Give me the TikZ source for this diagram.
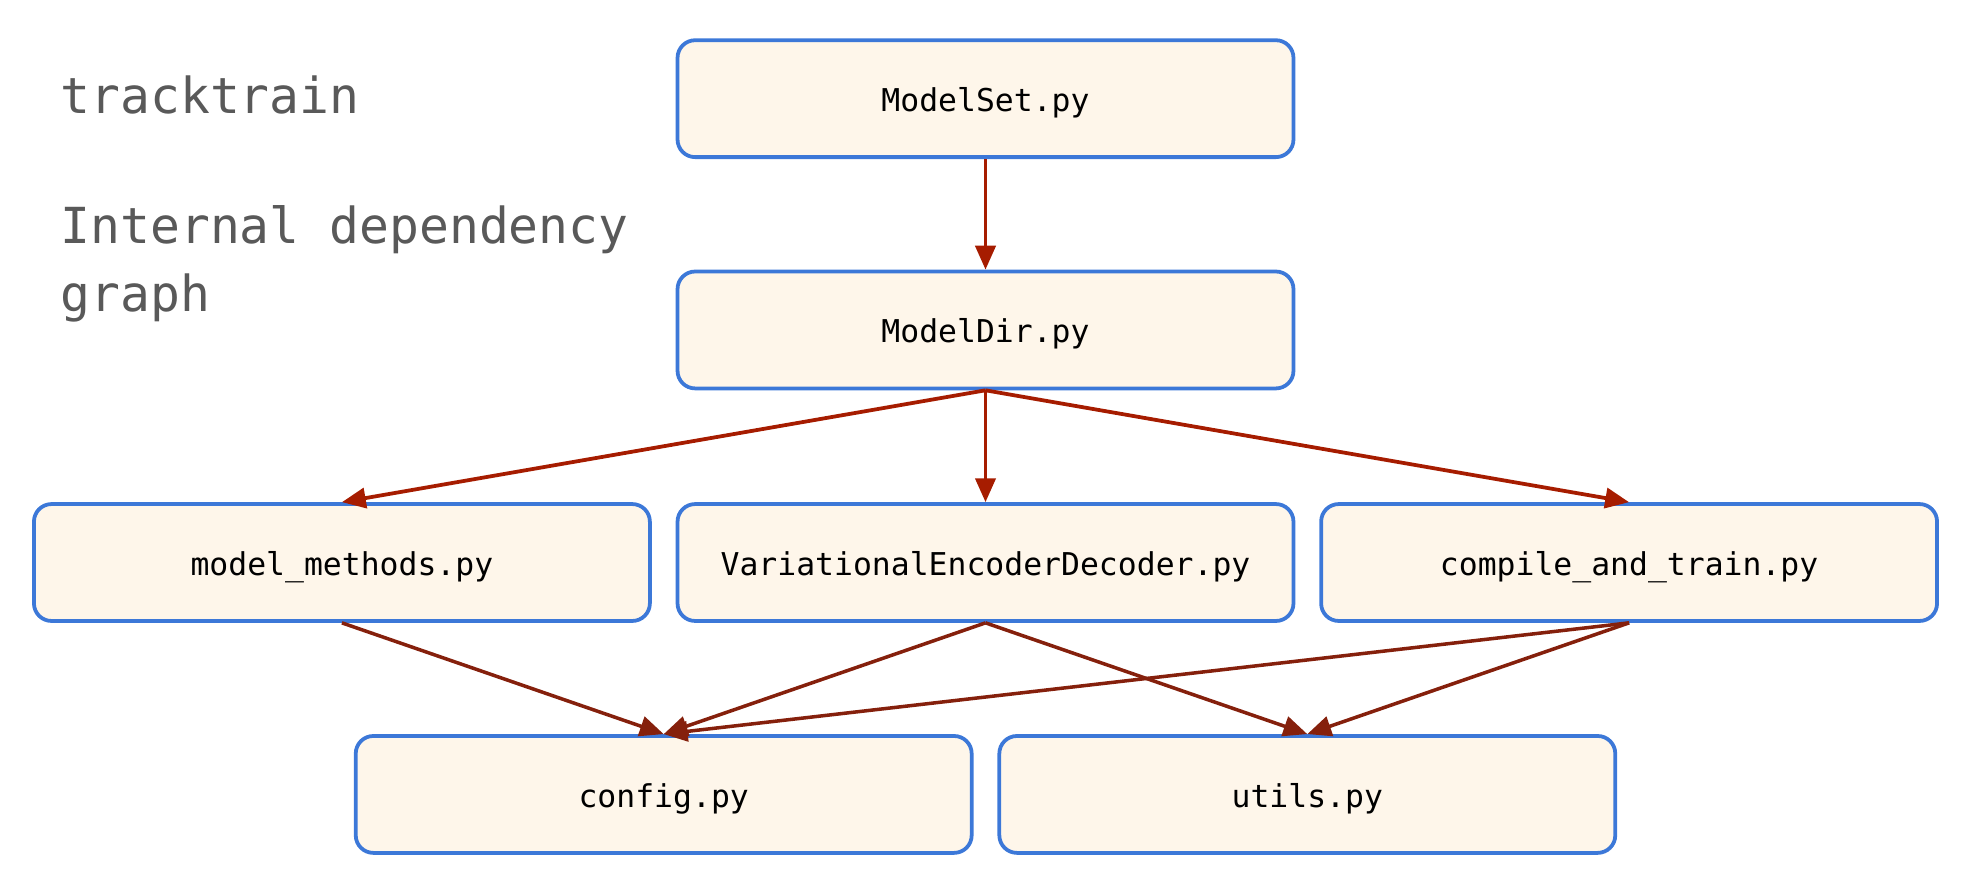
\documentclass[tikz,border=0pt]{standalone}
\usepackage{fontspec}
\setmonofont{DejaVu Sans Mono}
\usetikzlibrary{arrows.meta}
\definecolor{boxblue}{HTML}{3C78D8}
\definecolor{boxfill}{HTML}{FEF6EA}
\definecolor{arrtop}{HTML}{A61C00}
\definecolor{arrbot}{HTML}{85200C}
\definecolor{titlegray}{HTML}{595959}
\tikzset{
  filebox/.style={draw=boxblue, fill=boxfill, line width=3pt, rounded corners=14pt,
    minimum width=490pt, minimum height=93pt, inner sep=0pt,
    font=\ttfamily\fontsize{25}{30}\selectfont, text height=20pt, text depth=0pt},
  deptop/.style={draw=arrtop, line width=3pt, -{Triangle[length=19pt,width=16pt]}},
  depbot/.style={draw=arrbot, line width=2.8pt, -{Triangle[length=19pt,width=16pt]}},
  titletext/.style={text=titlegray, font=\ttfamily\fontsize{39.5}{53}\selectfont, anchor=base west, inner sep=0pt}
}
\begin{document}
\begin{tikzpicture}[x=1pt,y=-1pt]
\useasboundingbox (0,0) rectangle (1568,711);
\node[titletext] (title1) at (48,90) {tracktrain};
\node[titletext] (title2) at (48,194) {Internal dependency};
\node[titletext] (title3) at (48,248) {graph};

\node[filebox] (modelset) at (784,78.5) {ModelSet.py};
\node[filebox] (modeldir) at (784,262.5) {ModelDir.py};
\node[filebox] (methods) at (272,447.5) {model\_methods.py};
\node[filebox] (ved) at (784,447.5) {VariationalEncoderDecoder.py};
\node[filebox] (compile) at (1296,447.5) {compile\_and\_train.py};
\node[filebox] (config) at (528,632) {config.py};
\node[filebox] (utils) at (1040,632) {utils.py};

\draw[deptop] (modelset.south) -- (modeldir.north);
\draw[deptop] (modeldir.south) -- (methods.north);
\draw[deptop] (modeldir.south) -- (ved.north);
\draw[deptop] (modeldir.south) -- (compile.north);

\draw[depbot] (methods.south) -- (config.north);
\draw[depbot] (ved.south) -- (config.north);
\draw[depbot] (ved.south) -- (utils.north);
\draw[depbot] (compile.south) -- (config.north);
\draw[depbot] (compile.south) -- (utils.north);
\end{tikzpicture}
\end{document}
